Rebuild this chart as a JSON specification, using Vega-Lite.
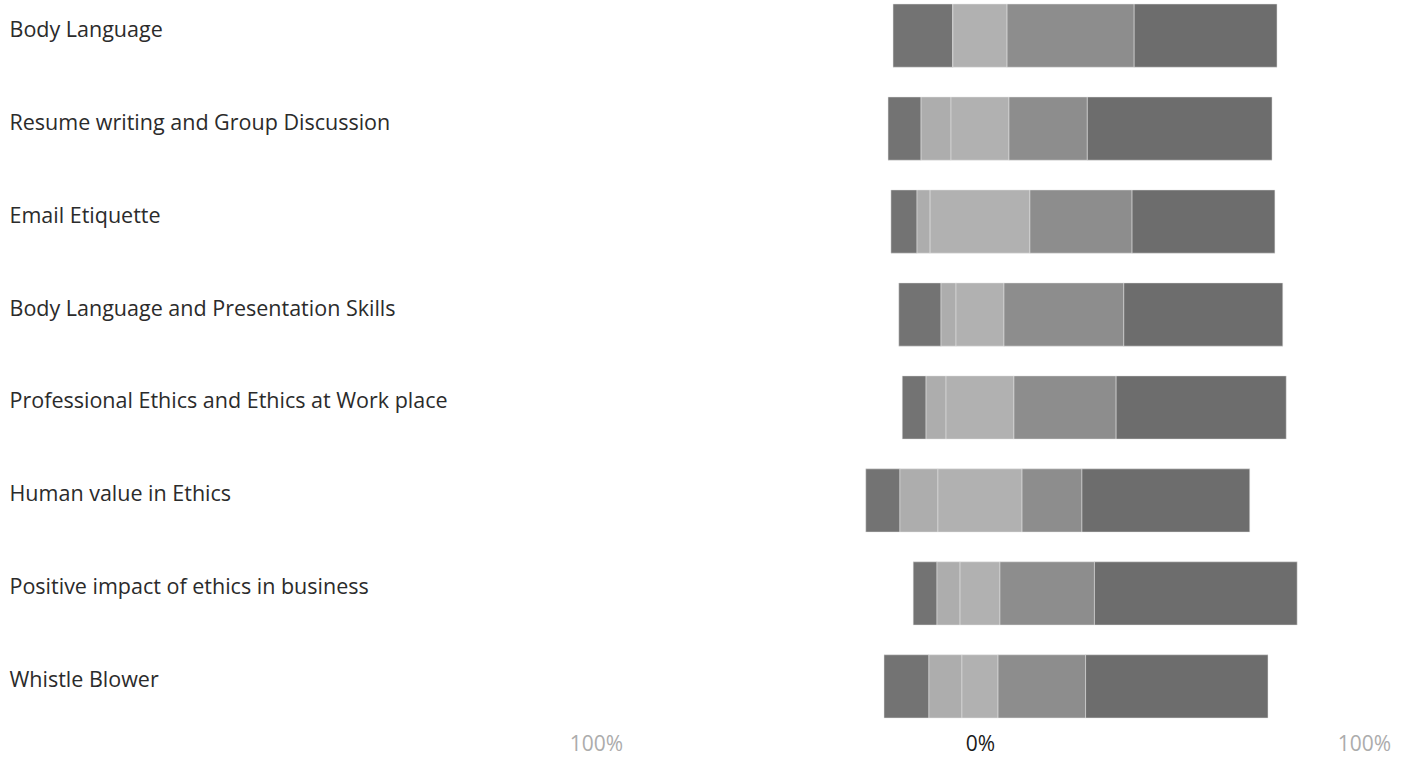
{
  "$schema": "https://vega.github.io/schema/vega-lite/v6.json",
  "autosize": "none",
  "width": 768,
  "height": 714,
  "padding": {"left": 596, "top": 4, "right": 39, "bottom": 40},
  "background": "white",
  "config": {"view": {"stroke": null}, "font": "Open Sans"},
  "data": {
    "values": [
      {"q": "Body Language", "r": "Strongly disagree", "o": 1, "p": 15.6},
      {"q": "Body Language", "r": "Disagree", "o": 2, "p": 0},
      {"q": "Body Language", "r": "Neutral", "o": 3, "p": 14.1},
      {"q": "Body Language", "r": "Agree", "o": 4, "p": 33.1},
      {"q": "Body Language", "r": "Strongly agree", "o": 5, "p": 37.2},
      {"q": "Resume writing and Group Discussion", "r": "Strongly disagree", "o": 1, "p": 8.6},
      {"q": "Resume writing and Group Discussion", "r": "Disagree", "o": 2, "p": 7.8},
      {"q": "Resume writing and Group Discussion", "r": "Neutral", "o": 3, "p": 15.1},
      {"q": "Resume writing and Group Discussion", "r": "Agree", "o": 4, "p": 20.4},
      {"q": "Resume writing and Group Discussion", "r": "Strongly agree", "o": 5, "p": 48.1},
      {"q": "Email Etiquette", "r": "Strongly disagree", "o": 1, "p": 6.8},
      {"q": "Email Etiquette", "r": "Disagree", "o": 2, "p": 3.4},
      {"q": "Email Etiquette", "r": "Neutral", "o": 3, "p": 26.0},
      {"q": "Email Etiquette", "r": "Agree", "o": 4, "p": 26.6},
      {"q": "Email Etiquette", "r": "Strongly agree", "o": 5, "p": 37.2},
      {"q": "Body Language and Presentation Skills", "r": "Strongly disagree", "o": 1, "p": 11.0},
      {"q": "Body Language and Presentation Skills", "r": "Disagree", "o": 2, "p": 3.9},
      {"q": "Body Language and Presentation Skills", "r": "Neutral", "o": 3, "p": 12.5},
      {"q": "Body Language and Presentation Skills", "r": "Agree", "o": 4, "p": 31.2},
      {"q": "Body Language and Presentation Skills", "r": "Strongly agree", "o": 5, "p": 41.4},
      {"q": "Professional Ethics and Ethics at Work place", "r": "Strongly disagree", "o": 1, "p": 6.2},
      {"q": "Professional Ethics and Ethics at Work place", "r": "Disagree", "o": 2, "p": 5.2},
      {"q": "Professional Ethics and Ethics at Work place", "r": "Neutral", "o": 3, "p": 17.7},
      {"q": "Professional Ethics and Ethics at Work place", "r": "Agree", "o": 4, "p": 26.6},
      {"q": "Professional Ethics and Ethics at Work place", "r": "Strongly agree", "o": 5, "p": 44.3},
      {"q": "Human value in Ethics", "r": "Strongly disagree", "o": 1, "p": 8.9},
      {"q": "Human value in Ethics", "r": "Disagree", "o": 2, "p": 9.9},
      {"q": "Human value in Ethics", "r": "Neutral", "o": 3, "p": 21.9},
      {"q": "Human value in Ethics", "r": "Agree", "o": 4, "p": 15.6},
      {"q": "Human value in Ethics", "r": "Strongly agree", "o": 5, "p": 43.7},
      {"q": "Positive impact of ethics in business", "r": "Strongly disagree", "o": 1, "p": 6.2},
      {"q": "Positive impact of ethics in business", "r": "Disagree", "o": 2, "p": 6.0},
      {"q": "Positive impact of ethics in business", "r": "Neutral", "o": 3, "p": 10.4},
      {"q": "Positive impact of ethics in business", "r": "Agree", "o": 4, "p": 24.6},
      {"q": "Positive impact of ethics in business", "r": "Strongly agree", "o": 5, "p": 52.8},
      {"q": "Whistle Blower", "r": "Strongly disagree", "o": 1, "p": 11.7},
      {"q": "Whistle Blower", "r": "Disagree", "o": 2, "p": 8.6},
      {"q": "Whistle Blower", "r": "Neutral", "o": 3, "p": 9.4},
      {"q": "Whistle Blower", "r": "Agree", "o": 4, "p": 22.8},
      {"q": "Whistle Blower", "r": "Strongly agree", "o": 5, "p": 47.5}
    ]
  },
  "transform": [
    {"stack": "p", "groupby": ["q"], "sort": [{"field": "o", "order": "ascending"}], "as": ["s0", "s1"]},
    {"calculate": "datum.o < 3 ? datum.p : (datum.o == 3 ? datum.p / 2 : 0)", "as": "neg"},
    {"joinaggregate": [{"op": "sum", "field": "neg", "as": "off"}], "groupby": ["q"]},
    {"calculate": "datum.s0 - datum.off", "as": "x0"},
    {"calculate": "datum.s1 - datum.off", "as": "x1"}
  ],
  "mark": {"type": "bar", "stroke": "#e6e6e6", "strokeWidth": 0.5},
  "encoding": {
    "y": {
      "field": "q",
      "type": "nominal",
      "sort": null,
      "scale": {"paddingInner": 0.32, "paddingOuter": 0},
      "axis": {
        "title": null,
        "domain": false,
        "ticks": false,
        "tickSize": 0,
        "labelAlign": "left",
        "labelPadding": 587,
        "labelOffset": -5,
        "labelFontSize": 21.5,
        "labelColor": "#2b2b2b",
        "labelLimit": 600,
        "labelFont": "Open Sans"
      }
    },
    "x": {
      "field": "x0",
      "type": "quantitative",
      "scale": {"domain": [-100, 100], "nice": false, "zero": false},
      "axis": {
        "title": null,
        "domain": false,
        "ticks": false,
        "grid": false,
        "values": [-100, 0, 100],
        "labelExpr": "abs(datum.value) + '%'",
        "labelFontSize": 21,
        "labelPadding": 15,
        "labelFont": "Open Sans",
        "labelColor": {"condition": {"test": "datum.value == 0", "value": "#1a1a1a"}, "value": "#acacac"},
        "labelFlush": false
      }
    },
    "x2": {"field": "x1"},
    "color": {
      "field": "r",
      "type": "nominal",
      "legend": null,
      "scale": {
        "domain": ["Strongly disagree", "Disagree", "Neutral", "Agree", "Strongly agree"],
        "range": ["#737373", "#adadad", "#b1b1b1", "#8d8d8d", "#6d6d6d"]
      }
    }
  }
}
